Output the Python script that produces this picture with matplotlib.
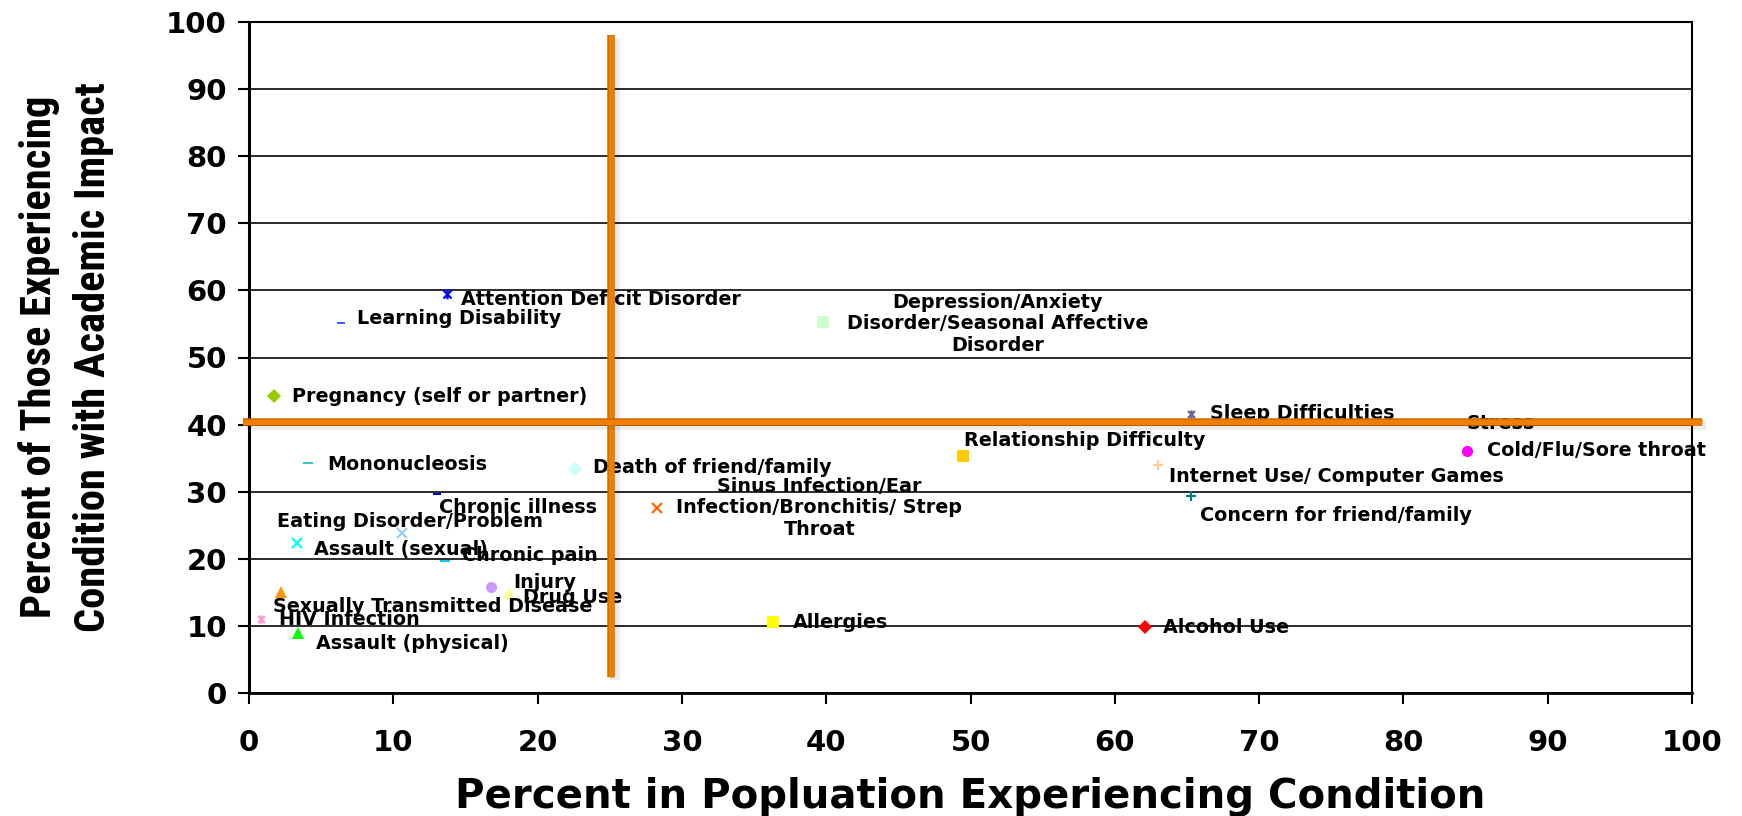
import matplotlib
matplotlib.use("Agg")
import matplotlib.pyplot as plt
import matplotlib.patheffects as pe
from matplotlib import font_manager as fm
from matplotlib.path import Path

# ---------------- data ----------------
conditions = [
    "Attention Deficit Disorder", "Learning Disability", "Pregnancy (self or partner)",
    "Mononucleosis", "Death of friend/family", "Chronic illness",
    "Eating Disorder/Problem", "Assault (sexual)", "Chronic pain", "Injury",
    "Drug Use", "Sexually Transmitted Disease", "HIV Infection", "Assault (physical)",
    "Depression/Anxiety\nDisorder/Seasonal Affective\nDisorder",
    "Sinus Infection/Ear\nInfection/Bronchitis/ Strep\nThroat",
    "Relationship Difficulty", "Allergies", "Alcohol Use", "Sleep Difficulties",
    "Stress", "Cold/Flu/Sore throat", "Internet Use/ Computer Games",
    "Concern for friend/family",
]
pct_population = [13.7, 6.4, 1.7, 4.1, 22.6, 13.0, 10.6, 3.3, 13.6, 16.8,
                  18.0, 2.2, 0.8, 3.4, 39.8, 28.3, 49.5, 36.3, 62.1, 65.3,
                  83.0, 84.4, 63.0, 65.3]
pct_impact = [59.4, 55.2, 44.3, 34.3, 33.4, 29.6, 23.8, 22.3, 19.7, 15.8,
              14.9, 15.1, 11.0, 8.9, 55.3, 27.6, 35.3, 10.6, 9.8, 41.6,
              40.2, 36.1, 34.0, 29.4]
x_ticks = [0, 10, 20, 30, 40, 50, 60, 70, 80, 90, 100]
y_ticks = [0, 10, 20, 30, 40, 50, 60, 70, 80, 90, 100]
threshold_population = 25.1
threshold_impact = 40.4
x_label = "Percent in Popluation Experiencing Condition"
y_label = "Percent of Those Experiencing\nCondition with Academic Impact"

# ---------------- styles ----------------
dash = Path([(-1, -0.3), (1, -0.3), (1, 0.3), (-1, 0.3), (-1, -0.3)],
            [Path.MOVETO, Path.LINETO, Path.LINETO, Path.LINETO, Path.CLOSEPOLY])
star = Path([(-1, -1), (1, 1), (-1, 1), (1, -1), (0, -1.2), (0, 1.2)],
            [Path.MOVETO, Path.LINETO, Path.MOVETO, Path.LINETO, Path.MOVETO, Path.LINETO])

# marker, color, size, label offset (px), ha
styles = [
    (star, "#0000FF", 7, (14, -5), "left"),
    (dash, "#3366FF", 6, (16, 4), "left"),
    ("D", "#99CC00", 7, (18, -1), "left"),
    (dash, "#33CCCC", 7, (19, -2), "left"),
    ("D", "#CCFFFF", 7, (18, 1), "left"),
    (dash, "#0000CC", 6, (2, -13), "left"),
    ("x", "#99CCFF", 7, (8, 12), "center"),
    ("x", "#00FFFF", 7, (17, -6), "left"),
    (dash, "#00CCFF", 7, (17, 5), "left"),
    ("o", "#CC99FF", 8, (22, 4), "left"),
    ("^", "#FFFF99", 9, (14, -4), "left"),
    ("^", "#FF9900", 9, (-8, -15), "left"),
    (star, "#FF99CC", 6, (18, 0), "left"),
    ("^", "#00FF00", 9, (18, -10), "left"),
    ("s", "#CCFFCC", 8, (174, -2), "center"),
    ("x", "#FF6600", 7, (162, 0), "center"),
    ("s", "#FFCC00", 8, (1, 16), "left"),
    ("s", "#FFFF00", 8, (20, -1), "left"),
    ("D", "#FF0000", 7, (18, 0), "left"),
    (star, "#666699", 6, (19, 0), "left"),
    (dash, "#969696", 6, (20, 0), "left"),
    ("o", "#FF00FF", 8, (20, 0), "left"),
    ("+", "#FFCC99", 7, (11, -12), "left"),
    ("+", "#008080", 7, (9, -20), "left"),
]

plt.rcParams["font.family"] = ["DejaVu Sans"]


def pick_narrow_font():
    for fam in ["Liberation Sans Narrow", "Arial Narrow", "Roboto Condensed",
                "Open Sans Condensed", "Noto Sans Condensed"]:
        try:
            fm.findfont(fm.FontProperties(family=fam, weight="bold"),
                        fallback_to_default=False)
            return dict(family=fam)
        except Exception:
            pass
    p = fm.findfont(fm.FontProperties(family="DejaVu Sans", weight="bold",
                                      stretch="condensed"))
    if "ondensed" in p:
        return dict(family="DejaVu Sans", fontstretch="condensed")
    for fam in ["Roboto", "Liberation Sans"]:
        try:
            fm.findfont(fm.FontProperties(family=fam, weight="bold"),
                        fallback_to_default=False)
            return dict(family=fam)
        except Exception:
            pass
    return dict(family="DejaVu Sans")


fig = plt.figure(figsize=(17.42, 8.16), dpi=100)
W, H = 1742, 816
ax = fig.add_axes([249 / W, 1 - 693 / H, (1692 - 249) / W, (693 - 22) / H])
ax.set_xlim(0, 100)
ax.set_ylim(0, 100)
ax.set_xticks(x_ticks)
ax.set_yticks(y_ticks)
ax.set_xticklabels([str(t) for t in x_ticks])
ax.set_yticklabels([str(t) for t in y_ticks])
ax.yaxis.grid(True, color="#1a1a1a", lw=1.3)
ax.set_axisbelow(True)
for s in ax.spines.values():
    s.set_color("black")
    s.set_linewidth(1.5)
ax.spines["left"].set_linewidth(2.2)
ax.spines["bottom"].set_linewidth(2.0)
ax.tick_params(axis="both", direction="out", length=8, width=1.5, labelsize=21)
ax.tick_params(axis="x", pad=18)
ax.tick_params(axis="y", pad=8)
for lab in ax.get_xticklabels() + ax.get_yticklabels():
    lab.set_fontweight("bold")

for name, xv, yv, st in zip(conditions, pct_population, pct_impact, styles):
    mk, col, ms, off, ha = st
    if mk in ("x", "+") or mk is star:
        ax.plot([xv], [yv], linestyle="none", marker=mk, ms=ms, mew=1.6,
                mec=col, mfc="none", zorder=3, clip_on=False)
    else:
        ax.plot([xv], [yv], linestyle="none", marker=mk, ms=ms, mew=0,
                mfc=col, mec=col, zorder=3, clip_on=False)
    ax.annotate(name, (xv, yv), xytext=off, textcoords="offset pixels",
                ha=ha, va="center", multialignment="center",
                fontsize=13.8, fontweight="bold", color="black",
                zorder=4, linespacing=1.15, annotation_clip=False)

# quadrant reference lines
line_fx = [pe.SimpleLineShadow(offset=(2.5, -2.5), shadow_color="black", alpha=0.08,
                               rho=1.0, linewidth=7),
           pe.Stroke(linewidth=5.4, foreground="#D06A00"),
           pe.Normal()]
ax.plot([threshold_population, threshold_population], [2.4, 98.0],
        color="#F27E00", lw=3.8, solid_capstyle="butt", clip_on=False,
        zorder=6, path_effects=line_fx)
ax.plot([-0.45, 100.7], [threshold_impact, threshold_impact],
        color="#F27E00", lw=3.8, solid_capstyle="butt", clip_on=False,
        zorder=6, path_effects=line_fx)

fig.text(970 / W, 1 - 797 / H, x_label, ha="center", va="center",
         fontsize=29, fontweight="bold")

ykw = pick_narrow_font()
yl = fig.text(66 / W, 1 - 357 / H, y_label, ha="center", va="center",
              rotation=90, multialignment="center", linespacing=1.42,
              fontsize=28, fontweight="bold", **ykw)
renderer = fig.canvas.get_renderer()
bb = yl.get_window_extent(renderer)
yl.set_fontsize(28 * 551.0 / bb.height)

fig.savefig("out.png", dpi=100)
